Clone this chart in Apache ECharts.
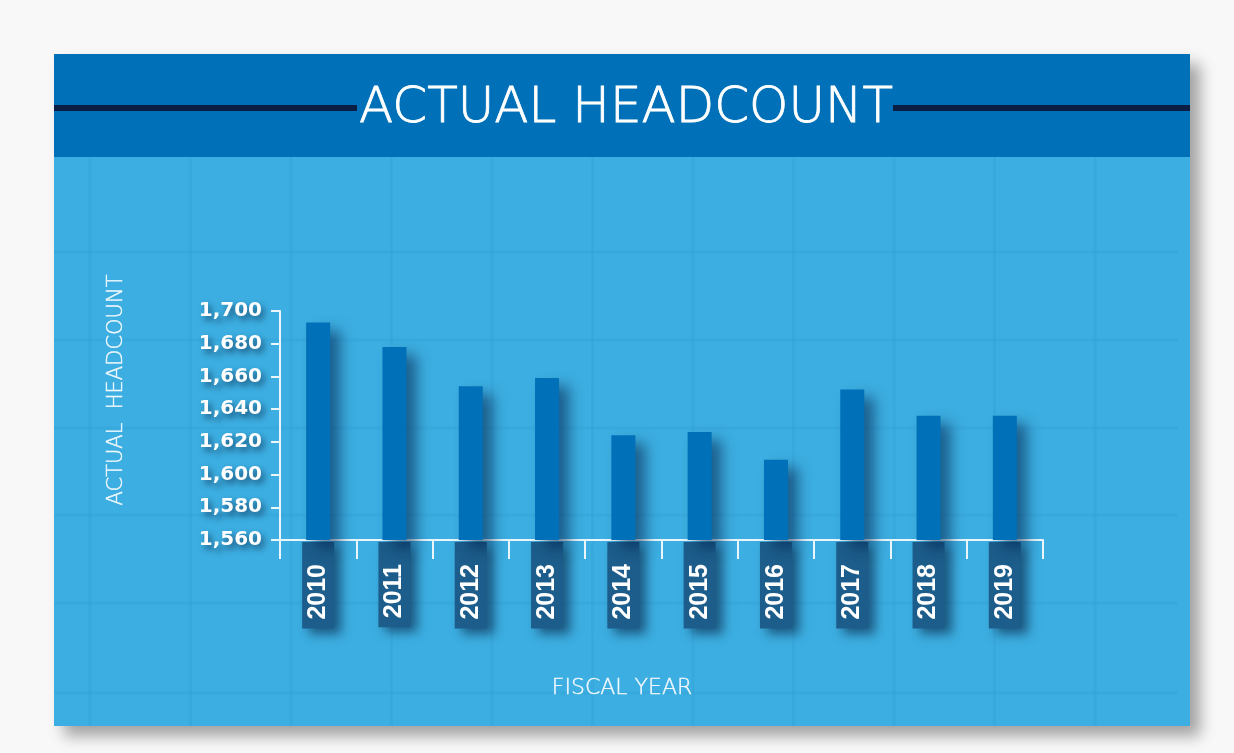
<!DOCTYPE html>
<html>
<head>
<meta charset="utf-8">
<script src="https://cdn.jsdelivr.net/npm/echarts@6/dist/echarts.min.js"></script>
<style>
html,body{margin:0;padding:0;background:#f8f8f8;}
#chart{width:1234px;height:753px;}
</style>
</head>
<body>
<div id="chart"></div>
<script>
const years = ['2010','2011','2012','2013','2014','2015','2016','2017','2018','2019'];
const headcount = [1693, 1678, 1654, 1659, 1624, 1626, 1609, 1652, 1636, 1636];
const yMin = 1560, yMax = 1700, yStep = 20;
const titleText = 'ACTUAL HEADCOUNT';
const yTitle = 'ACTUAL  HEADCOUNT';
const xTitle = 'FISCAL YEAR';

const chart = echarts.init(document.getElementById('chart'), null, {renderer:'canvas'});

const deco = [];
for (let k = 0; k <= 10; k++) {
  const x = 90 + 100.5 * k;
  deco.push({type:'line', z:-9, silent:true, shape:{x1:x,y1:157,x2:x,y2:726}, style:{stroke:'rgba(20,120,190,0.09)', lineWidth:3}});
}
[252, 340, 428, 515, 603, 693].forEach(y => {
  deco.push({type:'line', z:-9, silent:true, shape:{x1:54,y1:y,x2:1178,y2:y}, style:{stroke:'rgba(20,120,190,0.09)', lineWidth:3}});
});

const option = {
  animation:false,
  graphic:[
    {type:'rect', z:-10, silent:true, shape:{x:54,y:54,width:1136,height:672},
     style:{fill:'#3caee1', shadowBlur:14, shadowColor:'rgba(0,0,0,0.35)', shadowOffsetX:10, shadowOffsetY:10}},
    ...deco,
    {type:'rect', z:-8, silent:true, shape:{x:54,y:54,width:1136,height:103}, style:{fill:'#0071b8'}},
    {type:'rect', z:-7, silent:true, shape:{x:54,y:105,width:303,height:6}, style:{fill:'#0b1f45'}},
    {type:'rect', z:-7, silent:true, shape:{x:893,y:105,width:297,height:6}, style:{fill:'#0b1f45'}},
    {type:'text', z:-6, silent:true, x:626, y:109,
     style:{text:titleText, fill:'#ffffff', font:'200 50px "DejaVu Sans"', align:'center', verticalAlign:'middle',
            stroke:'#ffffff', lineWidth:0.8}},
    {type:'text', z:5, silent:true, x:117, y:390, rotation:Math.PI/2,
     style:{text:yTitle, fill:'#f0f8fd', font:'200 21px "DejaVu Sans"', align:'center', verticalAlign:'middle',
            stroke:'#f0f8fd', lineWidth:0.4}},
    {type:'text', z:5, silent:true, x:622, y:688,
     style:{text:xTitle, fill:'#f0f8fd', font:'200 22px "DejaVu Sans"', align:'center', verticalAlign:'middle',
            stroke:'#f0f8fd', lineWidth:0.4}}
  ],
  grid:{left:280, right:191, top:311, bottom:213, containLabel:false},
  xAxis:{
    type:'category', data:years, boundaryGap:true,
    axisLine:{show:true, lineStyle:{color:'#eaf6fc', width:2}},
    axisTick:{show:true, alignWithLabel:false, inside:false, length:19, lineStyle:{color:'#eaf6fc', width:2}},
    axisLabel:{
      interval:0, rotate:90, margin:2,
      fontFamily:'"Liberation Sans", Arial, sans-serif', fontWeight:'bold', fontSize:25,
      lineHeight:26, color:'#ffffff', backgroundColor:'#1c5d8b', padding:[3,22,3,9],
      shadowBlur:10, shadowColor:'rgba(0,20,50,0.55)', shadowOffsetX:7, shadowOffsetY:5
    },
    splitLine:{show:false}
  },
  yAxis:{
    type:'value', min:yMin, max:yMax, interval:yStep,
    axisLine:{show:true, lineStyle:{color:'#eaf6fc', width:2}},
    axisTick:{show:true, inside:false, length:9, lineStyle:{color:'#eaf6fc', width:2}},
    axisLabel:{
      margin:18, color:'#ffffff', fontFamily:'"DejaVu Sans"', fontWeight:'bold', fontSize:20,
      formatter:v => v.toLocaleString('en-US'),
      textShadowColor:'rgba(0,20,50,0.6)', textShadowBlur:6, textShadowOffsetX:3, textShadowOffsetY:4
    },
    splitLine:{show:false}
  },
  series:[{
    type:'bar', data:headcount, barWidth:24,
    itemStyle:{color:'#0070b8', shadowBlur:14, shadowColor:'rgba(0,30,70,0.55)', shadowOffsetX:10, shadowOffsetY:8}
  }]
};
chart.setOption(option);
</script>
</body>
</html>
